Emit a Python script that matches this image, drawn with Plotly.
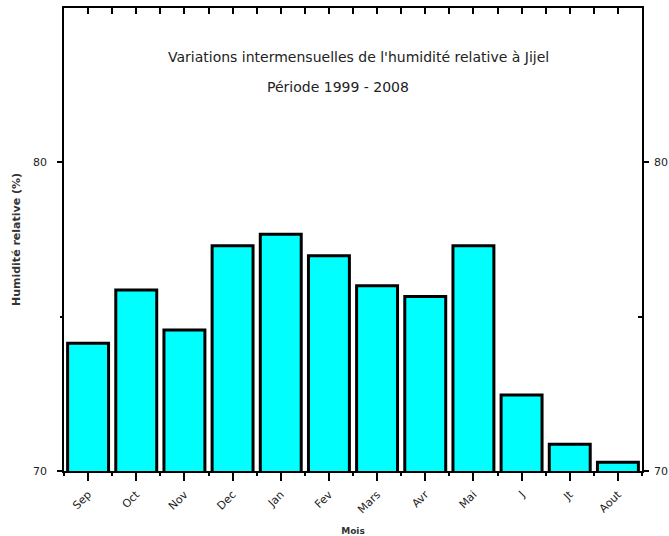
import plotly.graph_objects as go

# Monthly relative humidity at Jijel, 1999-2008 (hydrological year Sep -> Aug)
months = ["Sep", "Oct", "Nov", "Dec", "Jan", "Fev", "Mars", "Avr", "Mai", "J", "Jt", "Aout"]
humidity = [74.14, 75.86, 74.57, 77.30, 77.67, 76.97, 76.00, 75.65, 77.30, 72.46, 70.87, 70.28]

y_range = [70, 85]
y_ticks = [70, 80]
positions = list(range(len(months)))
half_steps = [i * 0.5 - 0.5 for i in range(2 * len(months) + 1)]

font_family = "DejaVu Sans, Arial, sans-serif"
tick_font = dict(family=font_family, size=11, color="#222222")

fig = go.Figure()
fig.add_trace(go.Bar(
    x=positions,
    y=humidity,
    marker=dict(color="#00FFFF", line=dict(color="black", width=3)),
    showlegend=False,
))
# invisible trace to carry the secondary (top / right) axes
fig.add_trace(go.Scatter(x=[positions[0]], y=[humidity[0]], xaxis="x2", yaxis="y2",
                         mode="markers", marker=dict(opacity=0), showlegend=False,
                         hoverinfo="skip"))

fig.update_layout(
    width=669, height=536,
    margin=dict(l=64, r=27, t=8, b=65),
    plot_bgcolor="white", paper_bgcolor="white",
    bargap=0.15,
    xaxis=dict(
        range=[-0.5, len(months) - 0.5], automargin=False,
        tickmode="array", tickvals=positions, ticktext=months,
        tickangle=-45, tickfont=tick_font, ticklabelstandoff=3,
        ticks="outside", ticklen=8, tickwidth=1.5, tickcolor="black",
        minor=dict(tickvals=half_steps[::2], ticks="outside", ticklen=3,
                   tickwidth=1.5, tickcolor="black"),
        showline=True, linecolor="black", linewidth=1.5,
        showgrid=False, zeroline=False,
        title=dict(text="<b>Mois</b>", font=dict(family=font_family, size=9, color="#333333")),
    ),
    xaxis2=dict(
        overlaying="x", side="top", matches="x", automargin=False,
        tickmode="array", tickvals=half_steps[1:-1], showticklabels=False,
        ticks="inside", ticklen=6, tickwidth=1.5, tickcolor="black",
        showline=True, linecolor="black", linewidth=1.5,
        showgrid=False, zeroline=False,
    ),
    yaxis=dict(
        range=y_range, automargin=True,
        tickmode="array", tickvals=y_ticks, tickfont=tick_font, ticklabelstandoff=8,
        ticks="outside", ticklen=5, tickwidth=1.5, tickcolor="black",
        minor=dict(tickvals=[75], ticks="outside", ticklen=2,
                   tickwidth=1.5, tickcolor="black"),
        showline=True, linecolor="black", linewidth=1.5,
        showgrid=False, zeroline=False,
        title=dict(text="<b>Humidité relative (%)</b>",
                   font=dict(family=font_family, size=11, color="#333333"), standoff=10),
    ),
    yaxis2=dict(
        overlaying="y", side="right", matches="y", automargin=False,
        tickmode="array", tickvals=y_ticks, tickfont=tick_font, ticklabelstandoff=3,
        ticks="outside", ticklen=5, tickwidth=1.5, tickcolor="black",
        minor=dict(tickvals=[75], ticks="inside", ticklen=4,
                   tickwidth=1.5, tickcolor="black"),
        showline=True, linecolor="black", linewidth=1.5,
        showgrid=False, zeroline=False,
    ),
    annotations=[
        dict(text="Variations intermensuelles de l'humidité relative à Jijel",
             x=0.5, y=0.895, xref="paper", yref="paper", xanchor="center", yanchor="middle",
             xshift=5, showarrow=False,
             font=dict(family=font_family, size=14, color="#222222")),
        dict(text="Période 1999 - 2008",
             x=0.5, y=0.83, xref="paper", yref="paper", xanchor="center", yanchor="middle",
             xshift=-15, showarrow=False,
             font=dict(family=font_family, size=14, color="#222222")),
    ],
)

fig.write_html("out.html")
